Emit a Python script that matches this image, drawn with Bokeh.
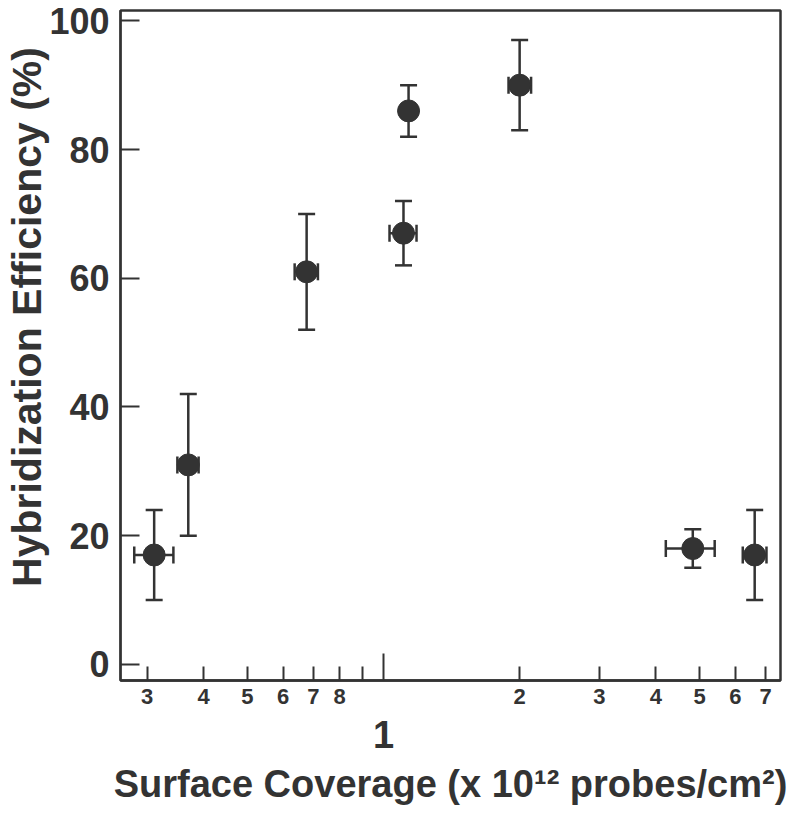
from bokeh.plotting import figure
from bokeh.models import (Range1d, LogAxis, FixedTicker, Whisker, TeeHead,
                          ColumnDataSource)
from bokeh.embed import file_html
from bokeh.resources import INLINE

# ---- data ----
coverage = [0.311, 0.370, 0.676, 1.107, 1.136, 2.00, 4.83, 6.62]
efficiency = [17, 31, 61, 67, 86, 90, 18, 17]
eff_low = [10, 20, 52, 62, 82, 83, 15, 10]
eff_high = [24, 42, 70, 72, 90, 97, 21, 24]

# horizontal error bars (point at 1.136 has none)
xerr_y = [17, 31, 61, 67, 90, 18, 17]
xerr_base = [0.311, 0.370, 0.676, 1.107, 2.00, 4.83, 6.62]
xerr_low = [0.281, 0.350, 0.636, 1.031, 1.89, 4.21, 6.23]
xerr_high = [0.343, 0.390, 0.716, 1.183, 2.12, 5.40, 7.03]

y_ticks = [0, 20, 40, 60, 80, 100]
x_small_ticks = [0.3, 0.4, 0.5, 0.6, 0.7, 0.8, 2, 3, 4, 5, 6, 7]
x_small_labels = ["3", "4", "5", "6", "7", "8", "2", "3", "4", "5", "6", "7"]
x_unlabelled_minor = [0.9]
x_major = [1]
x_major_labels = ["1"]

INK = "#333333"
FONT = "Liberation Sans"

p = figure(width=792, height=812, x_axis_type="log",
           x_range=Range1d(0.262, 7.55), y_range=Range1d(-2.5, 101.6),
           output_backend="svg", toolbar_location=None,
           min_border_left=120, min_border_right=12,
           min_border_top=10, min_border_bottom=132)
p.grid.visible = False
p.background_fill_color = "white"
p.border_fill_color = "white"
p.outline_line_color = INK
p.outline_line_width = 2.5

# ---- y axis ----
ya = p.yaxis[0]
ya.ticker = FixedTicker(ticks=y_ticks)
ya.major_tick_in = 19
ya.major_tick_out = 0
ya.minor_tick_line_color = None
ya.axis_line_color = INK
ya.axis_line_width = 2
ya.major_tick_line_color = INK
ya.major_tick_line_width = 2
ya.major_label_text_font = FONT
ya.major_label_text_font_style = "bold"
ya.major_label_text_font_size = "36px"
ya.major_label_text_color = INK
ya.major_label_standoff = 11
ya.axis_label = "\u00a0" * 5 + "Hybridization Efficiency (%)"
ya.axis_label_text_font = FONT
ya.axis_label_text_font_style = "bold"
ya.axis_label_text_font_size = "41px"
ya.axis_label_text_color = INK
ya.axis_label_standoff = -4

# ---- x axis A: ticks only (long tick at 1, short minor ticks) ----
xa = p.xaxis[0]
xa.ticker = FixedTicker(ticks=x_major,
                        minor_ticks=x_small_ticks + x_unlabelled_minor)
xa.major_tick_in = 27
xa.major_tick_out = 0
xa.minor_tick_in = 14
xa.minor_tick_out = 0
xa.axis_line_color = INK
xa.axis_line_width = 2.5
xa.major_tick_line_color = INK
xa.major_tick_line_width = 2
xa.minor_tick_line_color = INK
xa.minor_tick_line_width = 2
xa.major_label_overrides = {1: ""}
xa.major_label_text_font_size = "1px"
xa.major_label_standoff = 0

# ---- x axis B: small tick labels ----
xb = LogAxis(ticker=FixedTicker(ticks=x_small_ticks),
             major_label_overrides={t: l for t, l in zip(x_small_ticks, x_small_labels)},
             major_tick_in=0, major_tick_out=0,
             minor_tick_line_color=None, axis_line_color=None,
             major_label_text_font=FONT, major_label_text_font_style="bold",
             major_label_text_font_size="22px", major_label_text_color=INK,
             major_label_standoff=8)
p.add_layout(xb, "below")

# ---- x axis C: the big "1" and the axis title ----
xc = LogAxis(ticker=FixedTicker(ticks=x_major),
             major_label_overrides={t: l for t, l in zip(x_major, x_major_labels)},
             major_tick_in=0, major_tick_out=0,
             minor_tick_line_color=None, axis_line_color=None,
             major_label_text_font=FONT, major_label_text_font_style="bold",
             major_label_text_font_size="38px", major_label_text_color=INK,
             major_label_standoff=14,
             axis_label="Surface Coverage (x 10\u00b9\u00b2 probes/cm\u00b2)",
             axis_label_text_font=FONT, axis_label_text_font_style="bold",
             axis_label_text_font_size="38px", axis_label_text_color=INK,
             axis_label_standoff=12)
p.add_layout(xc, "below")

# ---- error bars ----
src = ColumnDataSource(dict(x=coverage, y=efficiency, lo=eff_low, hi=eff_high))
p.add_layout(Whisker(source=src, base="x", lower="lo", upper="hi",
                     dimension="height", line_color=INK, line_width=2.5,
                     upper_head=TeeHead(size=17, line_color=INK, line_width=2.5),
                     lower_head=TeeHead(size=17, line_color=INK, line_width=2.5)))
xsrc = ColumnDataSource(dict(y=xerr_y, b=xerr_base, lo=xerr_low, hi=xerr_high))
p.add_layout(Whisker(source=xsrc, base="y", lower="lo", upper="hi",
                     dimension="width", line_color=INK, line_width=2.5,
                     upper_head=TeeHead(size=17, line_color=INK, line_width=2.5),
                     lower_head=TeeHead(size=17, line_color=INK, line_width=2.5)))

p.scatter(x="x", y="y", source=src, size=22, marker="circle",
          fill_color=INK, line_color=INK)

open("out.html", "w").write(file_html(p, INLINE))
